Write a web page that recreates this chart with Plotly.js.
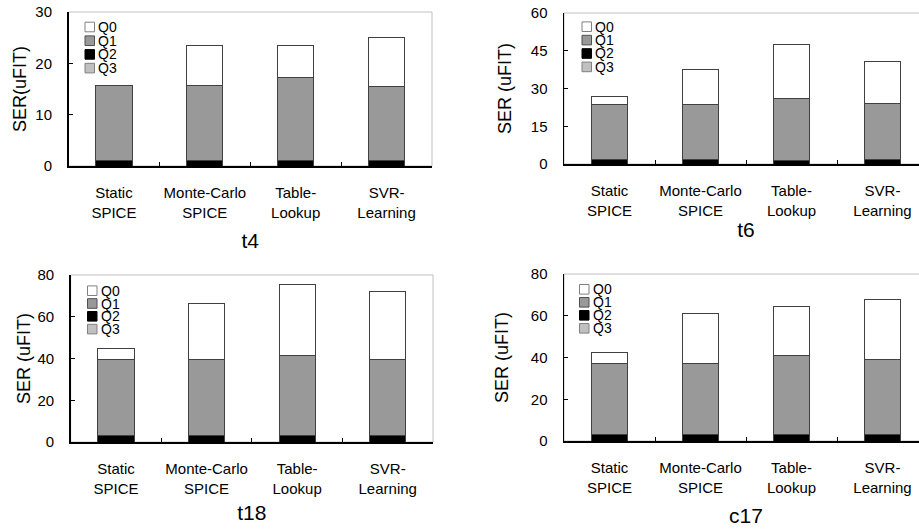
<!DOCTYPE html>
<html>
<head>
<meta charset="utf-8">
<script src="https://cdn.plot.ly/plotly-3.0.1.min.js"></script>
<style>
html,body{margin:0;padding:0;overflow:hidden;background:#fff;}
#chart{width:940px;height:529px;}
</style>
</head>
<body>
<div id="chart"></div>
<script>
// ---- data ----
const categories = ['Static<br>SPICE', 'Monte-Carlo<br>SPICE', 'Table-<br>Lookup', 'SVR-<br>Learning'];
const seriesNames = ['Q0', 'Q1', 'Q2', 'Q3'];
const panelTitles = ['t4', 't6', 't18', 'c17'];
const yTitles = ['SER(uFIT)', 'SER (uFIT)', 'SER (uFIT)', 'SER (uFIT)'];

// stacked segment values (uFIT), bottom-to-top: Q3, Q2, Q1, Q0
const t4_Q0 = [0, 7.85, 6.1, 9.55];
const t4_Q1 = [14.65, 14.65, 16.2, 14.45];
const t4_Q2 = [1.05, 1.05, 1.1, 1.1];
const t4_Q3 = [0, 0, 0, 0];

const t6_Q0 = [3.2, 13.9, 21.75, 16.7];
const t6_Q1 = [22.1, 22.1, 24.55, 22.5];
const t6_Q2 = [1.6, 1.6, 1.3, 1.6];
const t6_Q3 = [0, 0, 0, 0];

const t18_Q0 = [5.5, 27.05, 33.9, 32.8];
const t18_Q1 = [36.4, 36.4, 38.6, 36.5];
const t18_Q2 = [3.0, 3.0, 3.0, 2.9];
const t18_Q3 = [0, 0, 0, 0];

const c17_Q0 = [5.3, 24.0, 23.5, 28.8];
const c17_Q1 = [34.3, 34.3, 38.1, 36.2];
const c17_Q2 = [2.9, 2.9, 2.9, 2.9];
const c17_Q3 = [0, 0, 0, 0];

const yMax = [30, 60, 80, 80];
const yStep = [10, 15, 20, 20];

// ---- styles ----
const FONT = 'Arial, "Liberation Sans", sans-serif';
const fills = {Q0: '#ffffff', Q1: '#999999', Q2: '#000000', Q3: '#c0c0c0'};
const swatchLine = {Q0: '#808080', Q1: '#505050', Q2: '#000000', Q3: '#808080'};
const W = 940, H = 529;

const panels = [
  {Q0: t4_Q0, Q1: t4_Q1, Q2: t4_Q2, Q3: t4_Q3},
  {Q0: t6_Q0, Q1: t6_Q1, Q2: t6_Q2, Q3: t6_Q3},
  {Q0: t18_Q0, Q1: t18_Q1, Q2: t18_Q2, Q3: t18_Q3},
  {Q0: c17_Q0, Q1: c17_Q1, Q2: c17_Q2, Q3: c17_Q3}
];

// plot boxes in pixels: [left, right, top, bottom]
const boxes = [
  [68.5, 432, 12, 166],
  [564, 928, 13, 164],
  [70.7, 433, 275, 442],
  [564, 928, 274, 441]
];
// legend: [swatch left x, first row centre y, row step]
const legendPos = [[85, 27, 13.7], [582, 26.7, 13.4], [87.5, 290.7, 12.8], [579.5, 289.3, 13]];
const yStandoff = [4, 14, 2, 17];
const xStandoff = [14, 3, 10, 14];

const traces = [];
const layout = {
  width: W, height: H,
  margin: {l: 0, r: 0, t: 0, b: 0},
  paper_bgcolor: '#fff', plot_bgcolor: '#fff',
  barmode: 'stack', bargap: 0.6,
  showlegend: false,
  font: {family: FONT, color: '#000', size: 15},
  shapes: [], annotations: []
};

panels.forEach((p, i) => {
  const n = i + 1;
  const xa = n === 1 ? 'x' : 'x' + n;
  const ya = n === 1 ? 'y' : 'y' + n;
  ['Q3', 'Q2', 'Q1', 'Q0'].forEach(s => {
    traces.push({
      type: 'bar', name: s, x: categories, y: p[s],
      xaxis: xa, yaxis: ya,
      marker: {color: fills[s], line: {color: '#404040', width: 1}},
      hoverinfo: 'x+y+name'
    });
  });
  const b = boxes[i];
  const xKey = n === 1 ? 'xaxis' : 'xaxis' + n;
  const yKey = n === 1 ? 'yaxis' : 'yaxis' + n;
  layout[xKey] = {
    domain: [b[0] / W, b[1] / W], anchor: ya,
    type: 'category', tickson: 'boundaries', tickangle: 0,
    ticks: 'inside', ticklen: 4, tickcolor: '#000', tickwidth: 1,
    showline: true, linecolor: '#000', linewidth: 2,
    showgrid: false, zeroline: false, fixedrange: true,
    tickfont: {family: FONT, size: 15, color: '#000'},
    ticklabelstandoff: 12,
    automargin: false,
    title: {text: panelTitles[i], font: {family: FONT, size: 21, color: '#000'}, standoff: xStandoff[i]}
  };
  layout[yKey] = {
    domain: [1 - b[3] / H, 1 - b[2] / H], anchor: xa,
    range: [0, yMax[i]], dtick: yStep[i], tick0: 0,
    ticks: 'inside', ticklen: 4, tickcolor: '#000', tickwidth: 1,
    showline: true, linecolor: '#000', linewidth: 1.5,
    showgrid: false, zeroline: false, fixedrange: true,
    tickfont: {family: FONT, size: 15, color: '#000'},
    ticklabelstandoff: 12,
    automargin: false,
    title: {text: yTitles[i], font: {family: FONT, size: 18, color: '#000'}, standoff: yStandoff[i]}
  };
  layout.shapes.push({
    type: 'rect', xref: xa + ' domain', yref: ya + ' domain',
    x0: 0, x1: 1, y0: 0, y1: 1, layer: 'below',
    line: {color: '#c0c0c0', width: 1}, fillcolor: 'rgba(0,0,0,0)'
  });
  // legend (swatch + label), Q0 at top
  const lp = legendPos[i];
  seriesNames.forEach((s, k) => {
    const cy = lp[1] + k * lp[2];
    layout.shapes.push({
      type: 'rect', xref: 'paper', yref: 'paper',
      x0: lp[0] / W, x1: (lp[0] + 9.5) / W,
      y0: 1 - (cy + 4.8) / H, y1: 1 - (cy - 4.8) / H,
      fillcolor: fills[s], line: {color: swatchLine[s], width: 1}
    });
    layout.annotations.push({
      xref: 'paper', yref: 'paper', x: (lp[0] + 12) / W, y: 1 - cy / H,
      xanchor: 'left', yanchor: 'middle', showarrow: false, borderpad: 0,
      text: s, font: {family: FONT, size: 14, color: '#000'}
    });
  });
});

Plotly.newPlot('chart', traces, layout, {displayModeBar: false, staticPlot: true});
</script>
</body>
</html>
